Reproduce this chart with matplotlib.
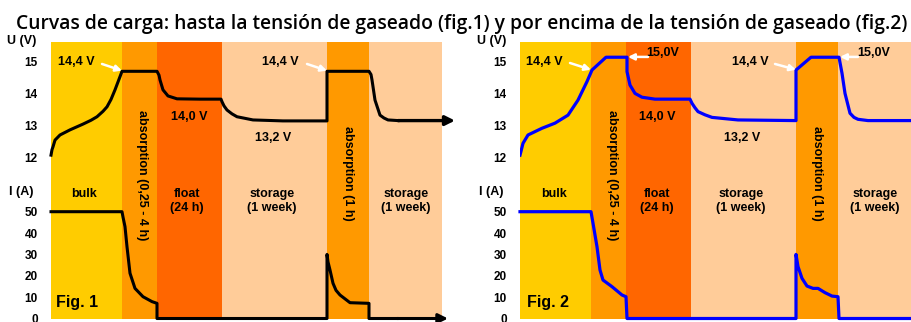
import matplotlib
matplotlib.use("Agg")
import matplotlib.pyplot as plt

# phases (time units), shared by both figures
phase_edges = [0, 71, 106, 171, 276, 318, 391]
phase_colors = ["#FFCC00", "#FF9900", "#FF6600", "#FFCC99", "#FF9900", "#FFCC99"]

# fig. 1 : charge up to gassing voltage
t_u1 = [0, 1, 2, 4, 9, 19, 32, 40, 46, 52, 56, 60, 64, 68, 71, 106, 108, 109, 112, 117,
        126, 149, 170, 171, 173, 176, 181, 186, 202, 232, 276, 276, 318, 320, 321, 324,
        329, 333, 337, 347]
u1 = [12.08, 12.25, 12.34, 12.55, 12.71, 12.87, 13.05, 13.17, 13.28, 13.45, 13.59, 13.82,
      14.12, 14.45, 14.70, 14.70, 14.58, 14.43, 14.12, 13.93, 13.84, 13.83, 13.83, 13.75,
      13.62, 13.49, 13.37, 13.28, 13.18, 13.15, 13.15, 14.70, 14.70, 14.60, 14.43, 13.80,
      13.33, 13.24, 13.18, 13.16]
u1_arrow_end = 404

t_i1 = [0, 71, 72, 74, 76, 79, 84, 92, 101, 106, 106, 276, 276, 277, 279, 282, 285, 289,
        299, 318, 318, 346]
i1 = [50, 50, 47.5, 43.0, 33.6, 21.2, 14.1, 10.2, 7.9, 7.1, 0, 0, 30, 26.5, 22.7, 16.5,
      13.2, 11.0, 7.4, 7.1, 0, 0]
i1_arrow_end = 397

# fig. 2 : charge above gassing voltage
t_u2 = [0, 1, 3, 8, 22, 35, 48, 58, 67, 72, 86, 107, 107, 110, 115, 122, 135, 170,
        172, 175, 178, 185, 192, 218, 276, 276, 291, 319, 322, 325, 330, 334, 338, 348, 400]
u2 = [12.08, 12.20, 12.45, 12.71, 12.92, 13.08, 13.33, 13.80, 14.38, 14.74, 15.14,
      15.14, 14.69, 14.27, 14.01, 13.89, 13.83, 13.83, 13.70, 13.56, 13.44, 13.34, 13.26,
      13.18, 13.16, 14.74, 15.14, 15.14, 14.64, 14.01, 13.39, 13.26, 13.20, 13.16, 13.16]

t_i2 = [0, 71, 73, 77, 80, 83, 92, 102, 106, 107, 276, 276, 278, 282, 287, 293, 298,
        305, 312, 318, 319, 400]
i2 = [50, 50, 44.6, 33.6, 22.7, 18.0, 14.9, 11.0, 10.2, 0, 0, 30, 24.3, 18.8, 15.2,
      14.1, 14.1, 12.1, 10.5, 10.2, 0, 0]

u_ticks = [12, 13, 14, 15]
i_ticks = [0, 10, 20, 30, 40, 50]

W, H = 912, 322
fig = plt.figure(figsize=(W / 100, H / 100), dpi=100)
plt.rcParams["font.family"] = ["Liberation Sans", "DejaVu Sans"]

fig.text(462 / W, 1 - 29 / H,
         "Curvas de carga: hasta la tensión de gaseado (fig.1) y por encima de la tensión de gaseado (fig.2)",
         ha="center", va="baseline", fontsize=13.9, family="Open Sans", fontweight="semibold")

BOLD = dict(fontweight="bold", fontsize=9, color="#000000")


def make_axes(x0_px, width_units):
    """Two stacked axes (voltage on top, current below) for one figure."""
    ax_i = fig.add_axes([x0_px / W, 1 - 319 / H, width_units / W, 139 / H])
    ax_u = fig.add_axes([x0_px / W, 1 - 180 / H, width_units / W, 138 / H])
    ax_u.set_zorder(2)
    ax_u.set_ylim(11.303, 15.616)
    ax_i.set_ylim(-0.234, 64.84)
    for ax in (ax_u, ax_i):
        ax.set_xlim(0, width_units)
        ax.patch.set_visible(False)
        for s in ax.spines.values():
            s.set_visible(False)
        ax.set_xticks([])
        ax.tick_params(axis="y", length=0, pad=9.5, labelsize=8.5)
    ax_u.set_yticks(u_ticks)
    ax_i.set_yticks(i_ticks)
    for lab in ax_u.get_yticklabels() + ax_i.get_yticklabels():
        lab.set_fontweight("bold")
    return ax_u, ax_i


def draw_phases(ax_u, ax_i, last_edge):
    edges = phase_edges[:-1] + [last_edge]
    for k, c in enumerate(phase_colors):
        for ax in (ax_u, ax_i):
            ax.axvspan(edges[k], edges[k + 1], color=c, lw=0, zorder=0)


def phase_labels(ax_u, ax_i, xs, absorption_x):
    ax_i.text(xs[0], 58.3, "bulk", ha="center", va="center", **BOLD)
    ax_i.text(xs[1], 55, "float\n(24 h)", ha="center", va="center", linespacing=1.2, **BOLD)
    ax_i.text(xs[2], 55, "storage\n(1 week)", ha="center", va="center", linespacing=1.2, **BOLD)
    ax_i.text(xs[3], 55, "storage\n(1 week)", ha="center", va="center", linespacing=1.2, **BOLD)
    ax_u.text(absorption_x[0], 11.46, "absorption (0,25 - 4 h)", rotation=270,
              ha="center", va="center", zorder=5, **BOLD)
    ax_u.text(absorption_x[1], 11.50, "absorption (1 h)", rotation=270,
              ha="center", va="center", zorder=5, **BOLD)


def white_arrow(ax, start, end):
    ax.annotate("", xy=end, xytext=start,
                arrowprops=dict(arrowstyle="-|>", color="white", lw=1.8, mutation_scale=9,
                                shrinkA=0, shrinkB=0), zorder=6)


# ---------- fig. 1 ----------
au1, ai1 = make_axes(51, 405)
draw_phases(au1, ai1, 391)
au1.plot(t_u1, u1, color="black", lw=2.2, clip_on=False, zorder=3)
au1.annotate("", xy=(u1_arrow_end, u1[-1]), xytext=(t_u1[-1], u1[-1]),
             arrowprops=dict(arrowstyle="-|>", color="black", lw=2.4, mutation_scale=14,
                             shrinkA=0, shrinkB=0), annotation_clip=False)
ai1.plot(t_i1, i1, color="black", lw=2.2, clip_on=False, zorder=3)
ai1.annotate("", xy=(i1_arrow_end, 0), xytext=(t_i1[-1], 0),
             arrowprops=dict(arrowstyle="-|>", color="black", lw=2.2, mutation_scale=14,
                             shrinkA=0, shrinkB=0), annotation_clip=False)

au1.text(-29, 15.65, "U (V)", ha="center", va="center", **BOLD)
ai1.text(-30, 59.0, "I (A)", ha="center", va="center", **BOLD)
au1.text(25, 15.0, "14,4 V", ha="center", va="center", **BOLD)
au1.text(229.5, 15.0, "14,4 V", ha="center", va="center", **BOLD)
white_arrow(au1, (51, 14.93), (71, 14.72))
white_arrow(au1, (256, 14.93), (276, 14.72))
au1.text(138, 13.27, "14,0 V", ha="center", va="center", **BOLD)
au1.text(222, 12.62, "13,2 V", ha="center", va="center", **BOLD)
phase_labels(au1, ai1, [33, 136, 221, 355], [91, 297])
ai1.text(26.5, 7.3, "Fig. 1", ha="center", va="center", fontweight="bold", fontsize=11.5)

# ---------- fig. 2 ----------
au2, ai2 = make_axes(520, 392)
draw_phases(au2, ai2, 400)
au2.plot(t_u2, u2, color="#0000FF", lw=2.3, zorder=3)
ai2.plot(t_i2, i2, color="#0000FF", lw=2.3, clip_on=False, zorder=3)

au2.text(-28, 15.65, "U (V)", ha="center", va="center", **BOLD)
ai2.text(-29, 59.0, "I (A)", ha="center", va="center", **BOLD)
au2.text(24, 15.0, "14,4 V", ha="center", va="center", **BOLD)
au2.text(230, 15.0, "14,4 V", ha="center", va="center", **BOLD)
white_arrow(au2, (50, 14.96), (71, 14.75))
white_arrow(au2, (255, 14.93), (276, 14.75))
au2.text(142.5, 15.26, "15,0V", ha="center", va="center", **BOLD)
au2.text(354, 15.26, "15,0V", ha="center", va="center", **BOLD)
white_arrow(au2, (128, 15.15), (108, 15.15))
white_arrow(au2, (338, 15.15), (320, 15.15))
au2.text(137, 13.27, "14,0 V", ha="center", va="center", **BOLD)
au2.text(222, 12.62, "13,2 V", ha="center", va="center", **BOLD)
phase_labels(au2, ai2, [34, 137, 221, 355], [92, 297])
ai2.text(28, 7.3, "Fig. 2", ha="center", va="center", fontweight="bold", fontsize=11.5)

fig.savefig("out.png", dpi=100)
